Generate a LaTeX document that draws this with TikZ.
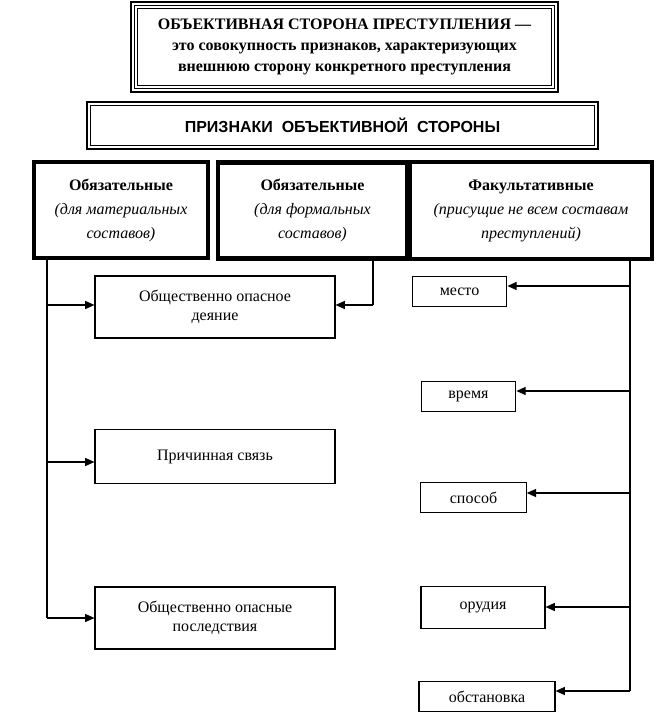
\documentclass[tikz,border=0pt]{standalone}
\usepackage{fontspec}
\setmainfont{Liberation Serif}
\newfontfamily\headfont{Liberation Sans}
\usetikzlibrary{arrows.meta}
\tikzstyle{frame}=[draw,line width=1.6pt,inner sep=0,align=center]
\tikzstyle{head}=[draw,line width=3pt,inner sep=0,align=center,minimum height=72pt,font=\fontsize{12}{18}\selectfont]
\tikzstyle{item}=[draw,line width=0.8pt,inner sep=0,align=center,font=\fontsize{12}{14}\selectfont]
\tikzstyle{wire}=[line width=1pt]
\tikzstyle{arr}=[line width=1pt,-{Triangle[length=7pt,width=6pt]}]

\begin{document}
\begin{tikzpicture}[x=0.75pt,y=-0.75pt]

                        \useasboundingbox (0,0) rectangle (664,727);

                        \node[frame,minimum width=320pt,minimum height=67.5pt,font=\bfseries\fontsize{12}{16}\selectfont] (title) at (344.5,47)
                        {ОБЪЕКТИВНАЯ СТОРОНА ПРЕСТУПЛЕНИЯ —\\это совокупность признаков, характеризующих\\внешнюю сторону конкретного преступления};
                        \draw[line width=0.9pt] ([shift={(3.5pt,-3.5pt)}]title.north west) rectangle ([shift={(-3.5pt,3.5pt)}]title.south east);
                        \draw[line width=0.5pt] ([shift={(5.5pt,-5.5pt)}]title.north west) rectangle ([shift={(-5.5pt,5.5pt)}]title.south east);

                        \node[frame,line width=1.4pt,minimum width=383pt,minimum height=35pt,font=\headfont\bfseries\fontsize{12}{14}\selectfont] (signs) at (342.5,125.5)
                        {ПРИЗНАКИ~~ОБЪЕКТИВНОЙ~~СТОРОНЫ};
                        \draw[line width=0.6pt] ([shift={(3pt,-3pt)}]signs.north west) rectangle ([shift={(-3pt,3pt)}]signs.south east);

                        \node[head,minimum width=130.5pt] (mat) at (121,210)
                        {\textbf{Обязательные}\\\textit{(для материальных}\\\textit{составов)}};
                        \node[head,line width=3.5pt,minimum width=142pt] (form) at (312.5,210.5)
                        {\textbf{Обязательные}\\\textit{(для формальных}\\\textit{составов)}};
                        \node[head,minimum width=181.5pt] (fac) at (531,210.5)
                        {\textbf{Факультативные}\\\textit{(присущие не всем составам}\\\textit{преступлений)}};

                        \node[item,minimum width=180pt,minimum height=46.5pt] (act) at (215,307) {Общественно опасное\\деяние};
                        \node[item,minimum width=180pt,minimum height=40pt] (cause) at (215,456.5) {Причинная связь};
                        \node[item,minimum width=180pt,minimum height=46.5pt] (result) at (215,618) {Общественно опасные\\последствия};

                        \node[item,minimum width=71pt,minimum height=23pt] (place) at (459.5,291.5) {место};
                        \node[item,minimum width=71pt,minimum height=23pt] (time) at (468.5,396.5) {время};
                        \node[item,minimum width=79pt,minimum height=23pt] (way) at (473.5,497.5) {способ};
                        \node[item,minimum width=93pt,minimum height=31pt] (tool) at (483,607.5) {орудия};
                        \node[item,minimum width=102pt,minimum height=23pt] (setting) at (487,696.5) {обстановка};

                        \coordinate (sa) at (47,258);
                        \coordinate (a1) at (47,305);
                        \coordinate (a2) at (47,462);
                        \coordinate (a3) at (47,618);
                        \coordinate (sb) at (373,259);
                        \coordinate (b1) at (373,305);
                        \coordinate (sc) at (630,258);
                        \coordinate (c1) at (630,286);
                        \coordinate (c2) at (630,391);
                        \coordinate (c3) at (630,493);
                        \coordinate (c4) at (630,607);
                        \coordinate (c5) at (630,691);

                        \draw[wire]
                        (sa) -- (a3)
                        (sc) -- (c5)
                        (sb) -- (b1)
                        ;

                        \draw[arr] (a1) -- (act.west |- a1);
                        \draw[arr] (a2) -- (cause.west |- a2);
                        \draw[arr] (a3) -- (result.west |- a3);
                        \draw[arr] (b1) -- (act.east |- b1);

                        \draw[arr] (c1) -- (place.east |- c1);
                        \draw[arr] (c2) -- (time.east |- c2);
                        \draw[arr] (c3) -- (way.east |- c3);
                        \draw[arr] (c4) -- (tool.east |- c4);
                        \draw[arr] (c5) -- (setting.east |- c5);

\end{tikzpicture}
\end{document}
